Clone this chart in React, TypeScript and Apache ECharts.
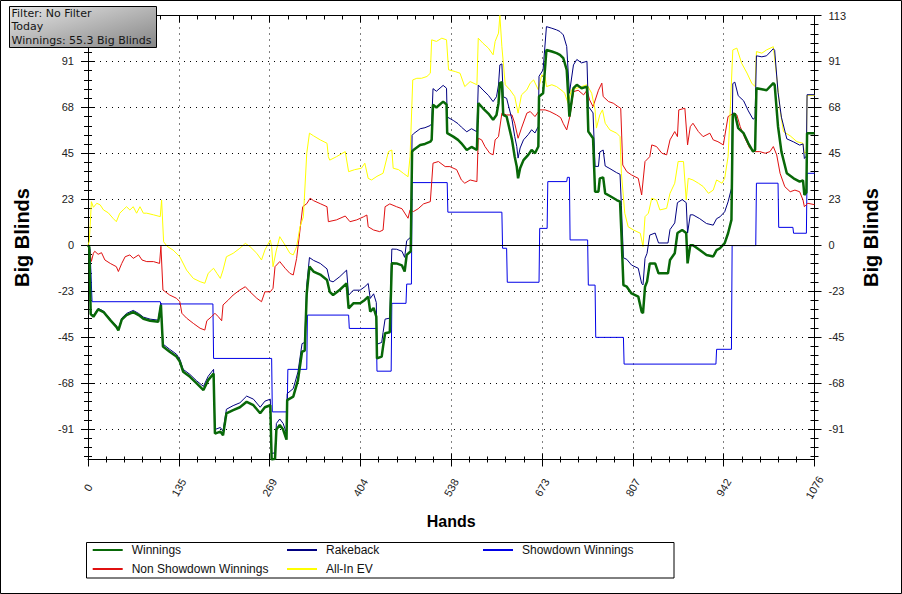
import React, { useEffect, useRef } from 'react';
import * as echarts from 'echarts';

const X_MAX = 1076;
const X_INTERVAL = 134.5;
const Y_MIN = -105.8;
const Y_MAX = 113.4;
const Y_MAJOR = [-90.72, -68.04, -45.36, -22.68, 0, 22.68, 45.36, 68.04, 90.72, 113.4];
const Y_LEFT_LABELS = [-90.72, -68.04, -45.36, -22.68, 0, 22.68, 45.36, 68.04, 90.72];
const Y_MINOR_STEP = 4.536;
const FILTER_LINES = ['Filter: No Filter', 'Today', 'Winnings: 55.3 Big Blinds'];
const SERIES_NAMES = ['Winnings', 'Rakeback', 'Showdown Winnings', 'Non Showdown Winnings', 'All-In EV'];

const winnings = [[0,0],[2,-1],[4,-34],[8,-35.3],[15,-31.7],[23,-33],[33,-37],[42,-40.3],[45,-42],[50,-36.7],[57,-34.5],[67,-33],[75,-34.5],[82,-36.3],[92,-37.3],[104,-37.8],[108,-29.5],[111,-50],[121,-52.6],[131,-55],[136,-57.5],[141,-62.5],[151,-65],[161,-68.2],[171,-71.5],[178,-66.6],[186,-63.3],[188,-93],[196,-92],[200,-93.8],[205,-83],[215,-81.4],[225,-80],[235,-77.3],[245,-79],[255,-83],[262,-80],[270,-79],[272,-105.8],[277,-105.5],[279,-91],[284,-88.8],[289,-91],[294,-96],[295,-76.5],[304,-74.8],[311,-66.6],[317,-52.6],[321,-52],[324,-23.6],[328,-10.6],[334,-13],[344,-14.5],[354,-17.2],[358,-23],[363,-24.6],[373,-22],[383,-18.8],[386,-31.2],[393,-28.7],[403,-28.7],[410,-27],[415,-25.4],[418,-32.8],[423,-31],[427,-35.3],[428,-55.9],[435,-55],[437,-50.1],[440,-43.5],[447,-43],[450,-8.9],[457,-9],[465,-10],[469,-13],[472,-4.8],[478,-3],[480,46.2],[482,47],[492,49.5],[499,50],[507,51.1],[509,52],[511,69.3],[516,68],[526,70.9],[531,69.5],[532,55.3],[541,53.6],[548,52],[553,50.3],[561,47],[568,48.5],[576,47],[578,70.1],[585,67.6],[593,65],[600,61.9],[605,64.3],[608,70.1],[610,80],[613,80.5],[615,64.3],[620,63.5],[628,52],[632,43.7],[635,38.8],[637,33],[640,38],[645,42],[652,44.6],[657,47],[662,45.4],[667,48.7],[668,73.4],[674,75],[679,96.4],[687,95.6],[694,94.8],[699,94],[704,92.3],[709,86.6],[713,63.5],[719,77.5],[724,79.2],[731,77.5],[739,78.3],[741,56.1],[748,52.8],[751,26.4],[756,26.4],[758,33],[763,33.5],[766,25.6],[773,24.3],[783,22.3],[788,21.5],[790,6],[793,-19.7],[798,-20.5],[805,-23.8],[815,-25.4],[820,-32.9],[822,-33.6],[825,-20.5],[828,-18],[832,-9],[840,-9],[845,-13.9],[859,-13.9],[862,-7.3],[869,-4],[873,6],[880,7.5],[886,6],[888,-9],[892,0],[896,0],[906,-2.4],[916,-4.8],[926,-5.6],[931,-2.4],[936,-1.5],[943,1],[948,5.9],[953,12.5],[955,64.3],[958,65],[963,57.8],[971,55.3],[978,50.3],[985,46.2],[988,47],[990,77.5],[998,77],[1005,76.5],[1015,80],[1017,79.2],[1022,58.5],[1027,46.2],[1035,35.5],[1045,33],[1054,31.4],[1059,32],[1061,24.8],[1064,26],[1065,55.3],[1076,55.3]];

const rakeback = [[0,0],[2,-0.8],[4,-33.6],[8,-34.8],[15,-31.2],[23,-32.5],[33,-36.5],[42,-39.8],[45,-41.5],[50,-36],[57,-33.7],[67,-32.2],[75,-33.7],[82,-35.5],[92,-36.5],[104,-37],[108,-28.7],[111,-48.8],[121,-51.4],[131,-53.8],[136,-56.3],[141,-61.3],[151,-63.8],[161,-67],[171,-69.7],[178,-64.7],[186,-61.3],[188,-91],[196,-90],[200,-91.8],[205,-81],[215,-79.2],[225,-77.8],[235,-74.5],[245,-76],[255,-80],[262,-77],[270,-76],[272,-102.8],[277,-102.5],[279,-88],[284,-85.8],[289,-88],[294,-92.8],[295,-73.3],[304,-70.8],[311,-62.6],[317,-48.6],[321,-48],[324,-19.6],[328,-6.1],[334,-7.5],[344,-9],[354,-11.7],[358,-17.5],[363,-18.1],[373,-15.5],[383,-12.3],[386,-24.7],[393,-22.2],[403,-22.2],[410,-20.5],[415,-18.9],[418,-26.3],[423,-24],[427,-28.3],[428,-48.9],[435,-48],[437,-43.1],[440,-36.5],[447,-36],[450,-1.9],[457,-2],[465,-3],[469,-6],[472,2.2],[478,4],[480,54.2],[482,55],[492,57.5],[499,58],[507,59.1],[509,60],[511,77.3],[516,76],[526,78.9],[531,77.5],[532,63.3],[541,61.6],[548,60],[553,58.3],[561,56],[568,57.5],[576,56],[578,79.1],[585,76.6],[593,74],[600,70.9],[605,73.3],[608,79.1],[610,89],[613,89.5],[615,73.3],[620,72.5],[628,62],[632,53.7],[635,48.8],[637,43],[640,48],[645,52],[652,54.6],[657,57],[662,55.4],[667,58.7],[668,83.4],[674,86.5],[679,107.9],[687,107.1],[694,106.3],[699,105.5],[704,103.8],[709,98.1],[713,75],[719,89],[724,91.7],[731,90],[739,90.8],[741,68.6],[748,65.3],[751,38.9],[756,38.9],[758,46],[763,47],[766,39.1],[773,37.8],[783,35.8],[788,35],[790,19.5],[793,-6.2],[798,-7],[805,-9.8],[815,-11.4],[820,-18.9],[822,-19.6],[825,-6.5],[828,-4],[832,5],[840,6],[845,1.1],[859,1.1],[862,7.7],[869,11],[873,21],[880,22.5],[886,21],[888,6],[892,15],[896,15],[906,13.1],[916,10.7],[926,9.9],[931,13.1],[936,14],[943,16.5],[948,21.4],[953,28],[955,79.8],[958,80.5],[963,73.8],[971,71.3],[978,66.3],[985,62.2],[988,63],[990,93.5],[998,93],[1005,93.5],[1015,97],[1017,96.2],[1022,75.5],[1027,63.2],[1035,52.5],[1045,51],[1054,49.4],[1059,50],[1061,42.8],[1064,44],[1065,74.3],[1076,74.3]];

const showdown = [[0,0],[3,-2],[6,-27.9],[107,-27.9],[108,-29],[185,-29],[186,-55.9],[272,-55.9],[273,-82.3],[295,-82.3],[296,-61.3],[324,-61.3],[325,-34.5],[386,-34.5],[387,-41.1],[427,-41.1],[428,-62.2],[449,-62.2],[450,-28.7],[471,-28.7],[472,-19.2],[479,-19.2],[480,30.9],[532,30.9],[533,16.3],[613,16.3],[614,-1.5],[620,-1.5],[621,-18.3],[668,-18.3],[669,8.3],[680,8.3],[681,31.4],[709,31.4],[710,33.5],[713,33.5],[714,2.6],[740,2.6],[741,-19.7],[751,-19.7],[752,-45.5],[793,-45.5],[794,-58.7],[930,-58.7],[931,-51.4],[953,-51.4],[954,-0.2],[989,-0.2],[990,30.6],[1022,30.6],[1023,8.8],[1044,8.8],[1045,5.9],[1064,5.9],[1065,35.5],[1076,35.5]];

const nonShowdown = [[0,0],[2,-2],[5,-8],[8,-4],[10,-3],[15,-4.5],[20,-3.7],[25,-7.3],[33,-9],[42,-10.6],[45,-13],[50,-9],[55,-5.7],[62,-4.8],[67,-6.5],[75,-4.8],[80,-7.3],[87,-8.1],[97,-8.1],[106,-9],[108,-0.5],[111,-22.1],[121,-24.6],[131,-26.2],[136,-27.9],[139,-33.6],[146,-36],[156,-38.6],[166,-41],[173,-41.9],[176,-37.3],[183,-35.3],[188,-33.6],[193,-35.3],[198,-37.3],[200,-29.5],[208,-27],[215,-24.6],[225,-22.1],[233,-20.5],[240,-23],[250,-26.2],[257,-27.9],[262,-23],[270,-23],[274,-21.3],[277,-10.6],[284,-8.1],[292,-11.4],[299,-13.9],[304,-14.7],[309,-6.5],[314,7.5],[318,19],[324,20.5],[329,23.2],[334,22],[344,20.5],[354,19],[356,11.6],[368,12.5],[381,14.4],[388,11.6],[398,12.5],[408,14],[413,14.9],[415,9.1],[423,7.5],[432,6.7],[437,7.5],[440,19],[447,20.4],[457,19],[465,18],[474,13.3],[477,17.5],[482,16.6],[489,18],[497,20.4],[507,21.5],[511,40.5],[519,41.3],[529,38.8],[536,38.8],[546,37.3],[553,32.2],[558,30.6],[566,32.2],[576,31.4],[578,52.8],[583,52],[588,48.7],[595,45.4],[600,44.6],[603,52],[608,53.6],[613,65.2],[620,64.3],[628,64.3],[632,60.2],[637,52.8],[642,57.8],[650,65.2],[655,66],[662,63.5],[669,66.8],[677,66.8],[684,66],[694,64.3],[700,63],[704,60],[709,56.9],[714,64],[719,75.8],[726,76.5],[734,74.2],[739,76.5],[743,71.7],[748,68.4],[756,76.5],[761,80],[763,73.4],[771,70.9],[778,70.1],[785,68.4],[789,67.6],[792,39.6],[798,36.3],[805,34.7],[815,33],[820,24.8],[825,41.3],[832,43.7],[835,49.5],[842,48.7],[850,45.4],[857,44.6],[862,52],[869,56.1],[873,53.6],[875,66.8],[884,67.6],[888,49.5],[892,58.5],[896,60.2],[904,56.1],[911,53.6],[921,55.3],[926,52],[933,51.1],[941,49.5],[943,53.6],[948,63.5],[956,65.2],[961,64.3],[966,58.5],[973,52.8],[980,47.9],[988,46.2],[995,46.2],[1003,45.4],[1010,46.2],[1015,48.7],[1020,44.6],[1025,35.5],[1032,28.9],[1040,26.4],[1047,27.2],[1054,26.4],[1059,22.3],[1061,19],[1066,20.7],[1076,20]];

const allInEv = [[0,0],[2,2],[5,21.5],[8,18.7],[13,20.7],[18,19.9],[23,17.4],[30,16],[37,13.3],[42,11.6],[47,15.8],[52,17.4],[57,19],[62,17.4],[67,19],[72,15.8],[77,19],[82,15.8],[87,15.8],[97,15],[107,14.1],[109,22.3],[112,1.7],[117,-0.5],[126,-2.4],[136,-5.7],[146,-12.3],[156,-16.4],[166,-18],[173,-18.8],[178,-13.9],[183,-12.3],[186,-11.4],[191,-13.9],[196,-16.4],[200,-12.3],[205,-5.7],[215,-4],[225,-1.5],[233,0.9],[240,-0.7],[250,-4],[257,-7.3],[262,-2.4],[270,2.6],[272,-0.7],[274,-10.6],[279,-2.4],[284,4.2],[292,0],[299,-4],[304,-4.8],[309,-0.7],[314,9.1],[319,14],[324,45.4],[328,55.3],[334,54],[344,52],[354,50.3],[356,43.7],[358,42],[368,43.7],[381,46.2],[386,36.3],[395,37.3],[405,38],[410,40.5],[415,33],[420,32.2],[428,34],[437,35.5],[445,46.2],[450,47],[452,38],[460,37.3],[467,35.5],[474,33.8],[477,43.7],[481,81.6],[487,82.4],[494,82.4],[502,83.3],[507,84.9],[509,101.4],[516,100.6],[524,102.2],[531,101.4],[534,86.6],[544,85.7],[551,84.9],[558,78.3],[566,80.8],[576,79.2],[578,102.2],[585,99.7],[593,97.3],[600,94],[603,100.6],[608,104.7],[610,113.4],[613,98],[618,79.2],[625,76.7],[632,73.4],[637,65.2],[642,74.2],[650,76.7],[655,80],[660,81.6],[667,76.7],[672,84.1],[677,83.3],[679,78.3],[687,79.2],[694,78.3],[704,75.8],[706,75],[711,70.1],[716,76.7],[724,77.5],[739,79.2],[746,75],[751,66.8],[753,57.8],[758,64.3],[762,66.8],[766,60.2],[773,56.9],[783,55.3],[788,53.6],[790,35.5],[795,15.8],[800,9.1],[808,7.5],[818,5.9],[822,-0.7],[825,14.1],[830,15.8],[835,23.2],[842,22.3],[847,17.4],[857,18.2],[862,25.6],[869,30.6],[874,41.3],[882,41.3],[886,22.3],[889,33],[896,32.2],[904,30.6],[911,29],[919,25.6],[926,27.2],[931,32.2],[939,30.6],[943,33],[948,43.7],[951,65.2],[955,96.4],[961,97.3],[968,89.9],[976,85],[983,80],[988,78.3],[990,95.6],[998,94.8],[1005,96.4],[1015,98],[1020,83.3],[1025,66.8],[1030,56.1],[1040,54],[1050,51.1],[1059,50.3],[1061,45.4],[1064,46],[1065,74],[1076,74]];

const FONT = '"Liberation Sans", Arial, sans-serif';

const yMinor: number[] = [];
for (let k = Math.ceil(Y_MIN / Y_MINOR_STEP); k * Y_MINOR_STEP <= Y_MAX + 1e-6; k++) {
  yMinor.push(+(k * Y_MINOR_STEP).toFixed(3));
}

const roundFmt = (v: number) => String(Math.round(v));

function yAxes(position: 'left' | 'right', nameGap: number, showSplit: boolean, labels: number[]) {
  const base = { type: 'value', position, min: Y_MIN, max: Y_MAX, offset: 0 };
  const hidden = { axisLine: { show: false }, axisLabel: { show: false }, splitLine: { show: false } };
  return [
    {
      ...base,
      name: 'Big Blinds',
      nameLocation: 'middle',
      nameGap,
      nameRotate: 90,
      nameTextStyle: { fontFamily: FONT, fontSize: 20, fontWeight: 'bold', color: '#000' },
      axisLine: { show: true, onZero: false, lineStyle: { color: '#000', width: 1 } },
      axisTick: { show: true, inside: false, length: 7, customValues: Y_MAJOR, lineStyle: { color: '#000' } },
      axisLabel: { show: true, customValues: labels, margin: 14, formatter: roundFmt, fontFamily: FONT, fontSize: 11, color: '#222' },
      splitLine: { show: showSplit, lineStyle: { color: '#000', width: 1, type: [1, 5] } },
    },
    { ...base, ...hidden, axisTick: { show: true, inside: true, length: 6, customValues: Y_MAJOR, lineStyle: { color: '#000' } } },
    { ...base, ...hidden, axisTick: { show: true, inside: false, length: 4, customValues: yMinor, lineStyle: { color: '#000' } } },
    { ...base, ...hidden, axisTick: { show: true, inside: true, length: 4, customValues: yMinor, lineStyle: { color: '#000' } } },
  ];
}

const xBase = { type: 'value', min: 0, max: X_MAX, interval: X_INTERVAL };

const legendCommon = {
  orient: 'vertical',
  top: 544,
  itemWidth: 30,
  itemHeight: 14,
  itemGap: 7,
  padding: 0,
  selectedMode: false,
  itemStyle: { opacity: 0, color: 'rgba(0,0,0,0)', borderWidth: 0 },
  textStyle: { fontFamily: FONT, fontSize: 12, color: '#111', padding: [0, 0, 0, 4] },
};

const lineSeries = (name: string, data: number[][], color: string, width: number, extra: any = {}) => ({
  name,
  type: 'line',
  data,
  xAxisIndex: 0,
  yAxisIndex: 0,
  symbol: 'none',
  showSymbol: false,
  lineStyle: { color, width },
  itemStyle: { color },
  emphasis: { disabled: true },
  ...extra,
});

const option: any = {
  animation: false,
  backgroundColor: '#ffffff',
  grid: { left: 88, right: 87.5, top: 15.5, bottom: 134.5, containLabel: false },
  xAxis: [
    {
      ...xBase,
      position: 'bottom',
      name: 'Hands',
      nameLocation: 'middle',
      nameGap: 54,
      nameTextStyle: { fontFamily: FONT, fontSize: 16, fontWeight: 'bold', color: '#000' },
      axisLine: { show: true, onZero: false, lineStyle: { color: '#000', width: 1 } },
      axisTick: { show: true, inside: false, length: 7, lineStyle: { color: '#000' } },
      minorTick: { show: true, splitNumber: 5, length: 3, lineStyle: { color: '#000' } },
      axisLabel: {
        show: true, rotate: 60, align: 'center', verticalAlign: 'middle', margin: 28,
        formatter: roundFmt, fontFamily: FONT, fontSize: 11, color: '#222',
        showMinLabel: true, showMaxLabel: true,
      },
      splitLine: { show: true, lineStyle: { color: '#000', width: 1, type: [1, 5] } },
    },
    {
      ...xBase,
      position: 'bottom',
      axisLine: { show: false, onZero: false },
      axisTick: { show: true, inside: true, length: 6, lineStyle: { color: '#000' } },
      minorTick: { show: true, splitNumber: 5, length: 3, lineStyle: { color: '#000' } },
      axisLabel: { show: false },
      splitLine: { show: false },
    },
    {
      ...xBase,
      position: 'top',
      axisLine: { show: true, onZero: false, lineStyle: { color: '#000', width: 1 } },
      axisTick: { show: true, inside: true, length: 7, lineStyle: { color: '#000' } },
      minorTick: { show: true, splitNumber: 5, length: 4, lineStyle: { color: '#000' } },
      axisLabel: { show: false },
      splitLine: { show: false },
    },
  ],
  yAxis: [...yAxes('left', 56, true, Y_LEFT_LABELS), ...yAxes('right', 46, false, Y_MAJOR)],
  legend: [
    { ...legendCommon, left: 91.7, data: [SERIES_NAMES[0], SERIES_NAMES[3]] },
    { ...legendCommon, left: 286, data: [SERIES_NAMES[1], SERIES_NAMES[4]] },
    { ...legendCommon, left: 482, data: [SERIES_NAMES[2]] },
  ],
  series: [
    lineSeries(SERIES_NAMES[2], showdown, '#0000e6', 1, {
      markLine: {
        silent: true,
        symbol: ['none', 'none'],
        label: { show: false },
        lineStyle: { color: '#000', width: 1, type: 'solid' },
        emphasis: { disabled: true },
        data: [{ yAxis: 0 }],
      },
    }),
    lineSeries(SERIES_NAMES[3], nonShowdown, '#e01010', 1),
    lineSeries(SERIES_NAMES[4], allInEv, '#ffff00', 1),
    lineSeries(SERIES_NAMES[1], rakeback, '#000080', 1),
    lineSeries(SERIES_NAMES[0], winnings, '#086808', 2.5),
  ],
  graphic: [
    {
      type: 'rect', z: 100, silent: true,
      shape: { x: 86.5, y: 542.5, width: 587.5, height: 35.5 },
      style: { fill: 'none', stroke: '#000', lineWidth: 1 },
    },
    {
      type: 'rect', z: 100, silent: true,
      shape: { x: 0.5, y: 0.5, width: 901, height: 593 },
      style: { fill: 'none', stroke: '#000', lineWidth: 1 },
    },
    {
      type: 'group', z: 100, silent: true,
      children: [
        {
          type: 'rect', z: 100,
          shape: { x: 9.5, y: 6.5, width: 147, height: 41 },
          style: {
            fill: { type: 'linear', x: 0, y: 0, x2: 1, y2: 1, colorStops: [{ offset: 0, color: '#e6e6e6' }, { offset: 1, color: '#858585' }] },
            stroke: '#000', lineWidth: 1,
          },
        },
        ...FILTER_LINES.map((t, i) => ({
          type: 'text', z: 101, x: 11.5, y: 13.5 + i * 13.3,
          style: { text: t, fontFamily: '"DejaVu Sans", Verdana, sans-serif', fontSize: 11, fill: '#151515', verticalAlign: 'middle', align: 'left' },
        })),
      ],
    },
  ],
};

export default function App() {
  const ref = useRef<HTMLDivElement>(null);
  useEffect(() => {
    const chart = echarts.init(ref.current as HTMLDivElement, null, { renderer: 'svg' });
    chart.setOption(option);
    return () => chart.dispose();
  }, []);
  return <div ref={ref} style={{ position: 'absolute', left: 0, top: 0, width: 902, height: 594, background: '#fff' }} />;
}
